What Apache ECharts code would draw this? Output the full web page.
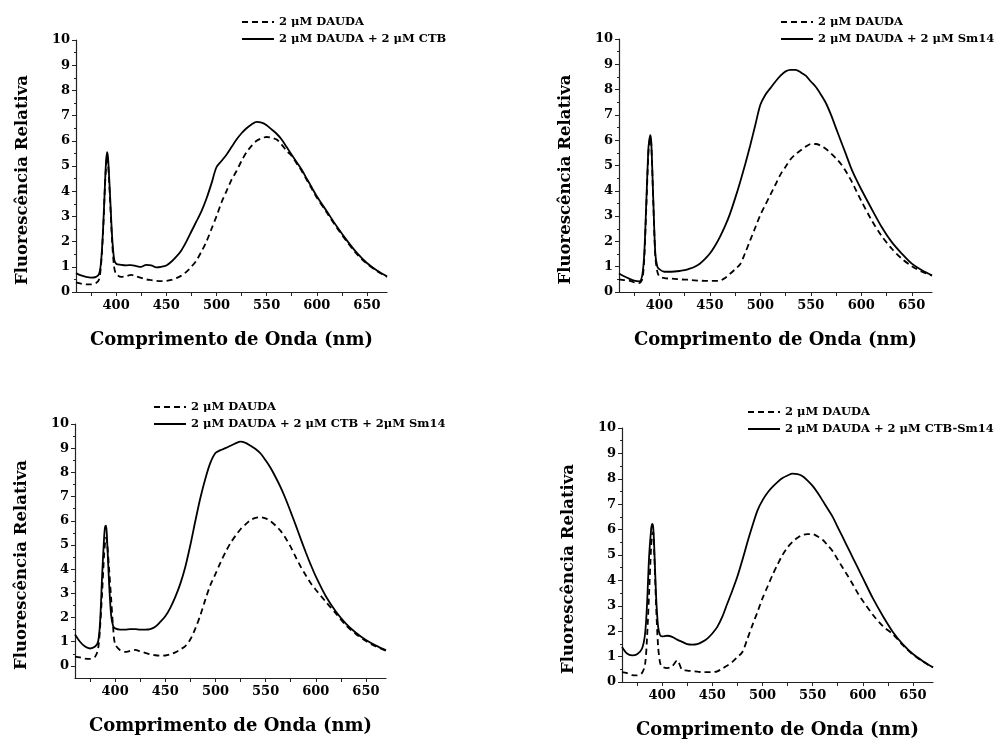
<!DOCTYPE html>
<html>
<head>
<meta charset="utf-8">
<title>Fluorescência DAUDA</title>
<script src="https://cdn.jsdelivr.net/npm/echarts@6/dist/echarts.min.js"></script>
<style>
    html, body { margin: 0; padding: 0; background: #fff; }
    #main { width: 997px; height: 740px; }
</style>
</head>
<body>
<div id="main"></div>
<script>
// comprimentos de onda (nm)
const wl = [360, 365, 370, 375, 380, 383, 385, 387, 389, 390, 391, 392, 394, 396, 398,
    400, 405, 410, 415, 420, 425, 430, 435, 440, 445, 450,
    455, 460, 465, 470, 475, 480, 485, 490, 495, 500,
    505, 510, 515, 520, 525, 530, 535, 540, 545, 550, 555, 560, 565, 570, 575, 580, 585, 590, 595, 600,
    610, 620, 630, 640, 650, 660, 670];

// painel 1: DAUDA / DAUDA + CTB
const ctbDash = [0.38, 0.33, 0.3, 0.3, 0.36, 0.5, 1.1, 2.4, 4.3, 5.0, 5.4, 5.1, 3.6, 2.0, 1.0,
    0.72, 0.6, 0.63, 0.68, 0.62, 0.56, 0.5, 0.47, 0.44, 0.43, 0.44,
    0.48, 0.55, 0.65, 0.8, 1.0, 1.25, 1.6, 2.0, 2.5, 3.0,
    3.55, 4.0, 4.45, 4.8, 5.2, 5.55, 5.8, 6.0, 6.1, 6.15, 6.12, 6.05, 5.85, 5.6, 5.4, 5.1, 4.8, 4.45, 4.1, 3.75,
    3.15, 2.55, 2.0, 1.5, 1.12, 0.83, 0.6];
const ctbSolid = [0.75, 0.66, 0.6, 0.57, 0.6, 0.72, 1.2, 2.5, 4.4, 5.2, 5.55, 5.3, 3.8, 2.2, 1.3,
    1.12, 1.08, 1.06, 1.07, 1.03, 1.0, 1.08, 1.06, 0.98, 1.0, 1.05,
    1.2, 1.4, 1.65, 2.0, 2.4, 2.8, 3.2, 3.7, 4.3, 4.95,
    5.2, 5.45, 5.75, 6.05, 6.3, 6.5, 6.65, 6.75, 6.72, 6.62, 6.45, 6.28, 6.05, 5.75, 5.45, 5.15, 4.85, 4.5, 4.15, 3.8,
    3.2, 2.6, 2.05, 1.55, 1.15, 0.85, 0.62];

// painel 2: DAUDA / DAUDA + Sm14
const sm14Dash = [0.5, 0.47, 0.45, 0.38, 0.35, 0.5, 1.3, 3.3, 5.4, 5.9, 6.1, 5.8, 3.5, 1.4, 0.8,
    0.62, 0.55, 0.53, 0.52, 0.5, 0.49, 0.48, 0.46, 0.45, 0.44, 0.44,
    0.44, 0.45, 0.55, 0.72, 0.9, 1.1, 1.55, 2.05, 2.55, 3.05,
    3.45, 3.85, 4.25, 4.65, 4.95, 5.25, 5.45, 5.6, 5.75, 5.85, 5.85, 5.78, 5.65, 5.48, 5.28, 5.05, 4.75, 4.4, 4.0, 3.6,
    2.85, 2.22, 1.72, 1.32, 1.02, 0.8, 0.65];
const sm14Solid = [0.73, 0.62, 0.53, 0.45, 0.42, 0.66, 1.5, 3.5, 5.6, 6.0, 6.2, 5.9, 3.6, 1.5, 1.0,
    0.9, 0.8, 0.8, 0.81, 0.83, 0.86, 0.92, 1.0, 1.12, 1.3, 1.52,
    1.82, 2.18, 2.6, 3.1, 3.7, 4.35, 5.05, 5.8, 6.6, 7.4,
    7.8, 8.06, 8.32, 8.55, 8.72, 8.78, 8.78, 8.68, 8.55, 8.32, 8.1, 7.8, 7.46, 7.0, 6.47, 5.94, 5.42, 4.89, 4.45, 4.05,
    3.3, 2.58, 1.98, 1.52, 1.12, 0.86, 0.66];

// painel 3: DAUDA / DAUDA + CTB + Sm14
const mixDash = [0.38, 0.35, 0.3, 0.29, 0.38, 0.7, 1.6, 3.0, 4.6, 5.1, 5.3, 5.1, 4.0, 2.8, 1.6,
    0.9, 0.65, 0.58, 0.62, 0.66, 0.6, 0.54, 0.48, 0.44, 0.42, 0.43,
    0.48, 0.56, 0.68, 0.82, 1.1, 1.55, 2.1, 2.75, 3.35, 3.8,
    4.27, 4.7, 5.08, 5.38, 5.65, 5.85, 6.03, 6.12, 6.15, 6.1, 5.98, 5.8, 5.58, 5.28, 4.92, 4.5, 4.1, 3.75, 3.42, 3.15,
    2.65, 2.17, 1.68, 1.32, 1.03, 0.8, 0.63];
const mixSolid = [1.3, 1.0, 0.8, 0.72, 0.8, 1.0, 1.8, 3.7, 5.3, 5.75, 5.8, 5.2, 3.4, 2.1, 1.65,
    1.55, 1.5, 1.5, 1.52, 1.52, 1.5, 1.5, 1.52, 1.62, 1.82, 2.05,
    2.4, 2.85, 3.4, 4.1, 5.0, 6.0, 6.95, 7.75, 8.4, 8.8,
    8.92, 9.0, 9.1, 9.2, 9.27, 9.22, 9.1, 8.97, 8.78, 8.5, 8.18, 7.8, 7.38, 6.9, 6.37, 5.82, 5.25, 4.7, 4.18, 3.7,
    2.88, 2.25, 1.75, 1.37, 1.07, 0.84, 0.65];

// painel 4: DAUDA / DAUDA + CTB-Sm14
const conjDash = [0.39, 0.35, 0.27, 0.26, 0.36, 0.7, 1.78, 3.5, 5.3, 5.8, 5.9, 5.2, 3.0, 1.4, 0.75,
    0.6, 0.55, 0.62, 0.85, 0.48, 0.45, 0.43, 0.41, 0.39, 0.39, 0.39,
    0.42, 0.53, 0.65, 0.79, 0.98, 1.18, 1.7, 2.24, 2.75, 3.29,
    3.75, 4.21, 4.62, 5.0, 5.3, 5.52, 5.68, 5.79, 5.82, 5.82, 5.73, 5.6, 5.38, 5.15, 4.82, 4.5, 4.18, 3.85, 3.5, 3.2,
    2.65, 2.2, 1.88, 1.45, 1.08, 0.8, 0.57];
const conjSolid = [1.38, 1.12, 1.05, 1.09, 1.32, 1.9, 3.1, 4.93, 5.99, 6.22, 6.12, 5.46, 3.36, 2.17, 1.84,
    1.8, 1.82, 1.78, 1.67, 1.58, 1.49, 1.47, 1.49, 1.58, 1.71, 1.91,
    2.17, 2.57, 3.09, 3.6, 4.15, 4.8, 5.5, 6.15, 6.75, 7.15,
    7.45, 7.68, 7.87, 8.03, 8.13, 8.2, 8.18, 8.1, 7.93, 7.72, 7.45, 7.14, 6.82, 6.5, 6.1, 5.7, 5.3, 4.9, 4.5, 4.1,
    3.3, 2.6, 1.97, 1.48, 1.1, 0.82, 0.58];

// eixos
const xLabels = [400, 450, 500, 550, 600, 650];
const xTicks = [375, 400, 425, 450, 475, 500, 525, 550, 575, 600, 625, 650];
const yLabels = [0, 1, 2, 3, 4, 5, 6, 7, 8, 9, 10];
const yMinor = [0.5, 1.5, 2.5, 3.5, 4.5, 5.5, 6.5, 7.5, 8.5, 9.5];

const dashName = '2 μM DAUDA';
const solidNames = [
    '2 μM DAUDA + 2 μM CTB',
    '2 μM DAUDA + 2 μM Sm14',
    '2 μM DAUDA + 2 μM CTB + 2μM Sm14',
    '2 μM DAUDA + 2 μM CTB-Sm14'
];
const xTitle = 'Comprimento de Onda (nm)';
const yTitle = 'Fluorescência Relativa';

const FONT = 'DejaVu Serif';
const AXIS_COLOR = '#222';

let panels = [
    { grid: { left: 76, top: 40, width: 311, height: 252 }, yMin: 0, legend: { left: 241, top: 16 }, dash: ctbDash, solid: ctbSolid },
    { grid: { left: 619, top: 39, width: 313, height: 253 }, yMin: 0, legend: { left: 780, top: 16 }, dash: sm14Dash, solid: sm14Solid },
    { grid: { left: 75, top: 424, width: 311, height: 254 }, yMin: -0.5, legend: { left: 153, top: 401 }, dash: mixDash, solid: mixSolid },
    { grid: { left: 622, top: 428, width: 311, height: 254 }, yMin: 0, legend: { left: 747, top: 406 }, dash: conjDash, solid: conjSolid }
];

let labelStyle = { fontFamily: FONT, fontWeight: 'bold', color: '#000' };

let grid = [], xAxis = [], yAxis = [], series = [], legend = [];

panels.forEach((p, i) => {
    grid.push(Object.assign({ containLabel: false }, p.grid));

    xAxis.push({
        type: 'value',
        gridIndex: i,
        min: 360,
        max: 670,
        name: xTitle,
        nameLocation: 'middle',
        nameGap: 39,
        nameTextStyle: Object.assign({ fontSize: 18 }, labelStyle),
        axisLine: { onZero: false, lineStyle: { color: AXIS_COLOR, width: 1.2 } },
        axisTick: { customValues: xTicks, length: 4, lineStyle: { color: AXIS_COLOR } },
        axisLabel: Object.assign({ customValues: xLabels, margin: 7, fontSize: 13 }, labelStyle),
        splitLine: { show: false }
    });

    // eixo principal
    yAxis.push({
        type: 'value',
        gridIndex: i,
        min: p.yMin,
        max: 10,
        name: yTitle,
        nameLocation: 'middle',
        nameGap: 45,
        nameTextStyle: Object.assign({ fontSize: 16.5, padding: [0, 28, 0, 0] }, labelStyle),
        axisLine: { show: true, onZero: false, lineStyle: { color: AXIS_COLOR, width: 1.2 } },
        axisTick: { customValues: yLabels, length: 4, lineStyle: { color: AXIS_COLOR } },
        axisLabel: Object.assign({ customValues: yLabels, margin: 6, fontSize: 13 }, labelStyle),
        splitLine: { show: false }
    });
    // marcas menores
    yAxis.push({
        type: 'value',
        gridIndex: i,
        min: p.yMin,
        max: 10,
        position: 'left',
        axisLine: { show: false },
        axisTick: { show: true, customValues: yMinor, length: 2, lineStyle: { color: AXIS_COLOR } },
        axisLabel: { show: false },
        splitLine: { show: false }
    });

    let lineBase = {
        type: 'line',
        xAxisIndex: i,
        yAxisIndex: 2 * i,
        symbol: 'none',
        showSymbol: false,
        smooth: 0.3,
        silent: true,
        itemStyle: { color: '#000' }
    };
    series.push(Object.assign({}, lineBase, {
        name: dashName,
        data: wl.map((w, k) => [w, p.dash[k]]),
        lineStyle: { color: '#000', width: 1.8, type: [6, 4] }
    }));
    series.push(Object.assign({}, lineBase, {
        name: solidNames[i],
        data: wl.map((w, k) => [w, p.solid[k]]),
        lineStyle: { color: '#000', width: 1.8, type: 'solid' }
    }));

    legend.push({
        orient: 'vertical',
        left: p.legend.left,
        top: p.legend.top,
        padding: 0,
        itemWidth: 32,
        itemHeight: 12,
        itemGap: 5,
        selectedMode: false,
        // sem o circulo no icone
        itemStyle: { color: 'rgba(0,0,0,0)', borderWidth: 0 },
        data: [dashName, solidNames[i]],
        textStyle: Object.assign({ fontSize: 11.5 }, labelStyle)
    });
});

let myChart = echarts.init(document.getElementById('main'), null, { renderer: 'canvas' });

let option = {
    backgroundColor: '#fff',
    animation: false,
    legend: legend,
    grid: grid,
    xAxis: xAxis,
    yAxis: yAxis,
    series: series
};

myChart.setOption(option);

window.addEventListener('resize', function () {
    myChart.resize();
});
</script>
</body>
</html>
